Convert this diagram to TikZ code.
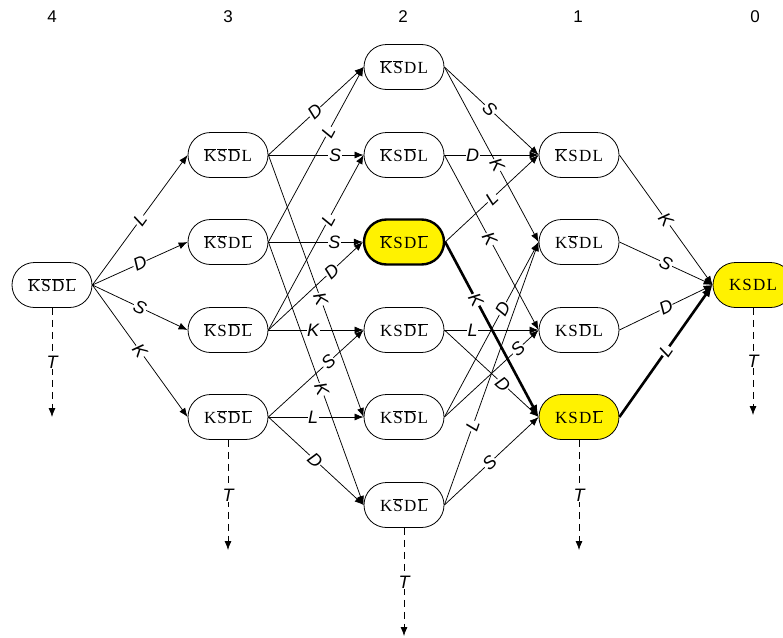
\documentclass[tikz,border=0pt]{standalone}
\usepackage{fontspec}
\setmainfont{Liberation Serif}
\setsansfont{Liberation Sans}
\usetikzlibrary{arrows.meta,shapes.misc}
\newcommand\nb[1]{$\overline{\mbox{#1}}$}
\newcommand\kk{\kern1.2pt}
\begin{document}
\begin{tikzpicture}[x=1pt,y=-1pt,
  state/.style={rounded rectangle, draw, line width=0.8pt, minimum width=80pt, minimum height=45pt, inner sep=0pt, fill=white, font=\fontsize{17}{20}\selectfont},
  hl/.style={fill=yellow},
  hlb/.style={fill=yellow, line width=2.4pt},
  edge/.style={line width=0.75pt, -{Latex[length=9pt,width=7pt]}},
  boldedge/.style={line width=2.6pt, -{Latex[length=12pt,width=9pt]}},
  lab/.style={fill=white, inner sep=0.6pt, sloped, font=\sffamily\itshape\fontsize{18}{18}\selectfont},
  tlab/.style={fill=white, inner sep=0.6pt, font=\sffamily\itshape\fontsize{18}{18}\selectfont},
  tarrow/.style={line width=0.75pt, dash pattern=on 7pt off 5pt, -{Latex[length=9pt,width=7pt]}},
  hdr/.style={font=\sffamily\fontsize{17}{17}\selectfont}]
\useasboundingbox (0,0) rectangle (783,637);
\clip (0,0) rectangle (783,637);
% headers
\node[hdr] (h4) at (52,17) {4};
\node[hdr] (h3) at (228,17) {3};
\node[hdr] (h2) at (403,17) {2};
\node[hdr] (h1) at (578,17) {1};
\node[hdr] (h0) at (755,17) {0};
% nodes
\node[state] (c4) at (52,285) {\nb{K}\kk\nb{S}\kk\nb{D}\kk\nb{L}};
\node[state] (c3a) at (228,155) {\nb{K}\kk\nb{S}\kk\nb{D}\kk L};
\node[state] (c3b) at (228,242) {\nb{K}\kk\nb{S}\kk D\kk\nb{L}};
\node[state] (c3c) at (228,330) {\nb{K}\kk S\kk\nb{D}\kk\nb{L}};
\node[state] (c3d) at (228,417) {K\kk\nb{S}\kk\nb{D}\kk\nb{L}};
\node[state] (c2a) at (404,67) {\nb{K}\kk\nb{S}\kk D\kk L};
\node[state] (c2b) at (404,155) {\nb{K}\kk S\kk\nb{D}\kk L};
\node[state,hlb] (c2c) at (404,242) {\nb{K}\kk S\kk D\kk\nb{L}};
\node[state] (c2d) at (404,330) {K\kk S\kk\nb{D}\kk\nb{L}};
\node[state] (c2e) at (404,417) {K\kk\nb{S}\kk\nb{D}\kk L};
\node[state] (c2f) at (404,505) {K\kk\nb{S}\kk D\kk\nb{L}};
\node[state] (c1a) at (579,155) {\nb{K}\kk S\kk D\kk L};
\node[state] (c1b) at (579,242) {K\kk\nb{S}\kk D\kk L};
\node[state] (c1c) at (579,330) {K\kk S\kk\nb{D}\kk L};
\node[state,hl] (c1d) at (579,417) {K\kk S\kk D\kk\nb{L}};
\node[state,hl] (c0) at (753,285) {K\kk S\kk D\kk L};
% col 4 -> col 3
\draw[edge] (c4.east) -- node[lab,pos=.5]{L} (c3a.west);
\draw[edge] (c4.east) -- node[lab,pos=.5]{D} (c3b.west);
\draw[edge] (c4.east) -- node[lab,pos=.5]{S} (c3c.west);
\draw[edge] (c4.east) -- node[lab,pos=.5]{K} (c3d.west);
% col 3 -> col 2
\draw[edge] (c3a.east) -- node[lab,pos=.49]{D} (c2a.west);
\draw[edge] (c3a.east) -- node[lab,pos=.7]{S} (c2b.west);
\draw[edge] (c3a.east) -- node[lab,pos=.55]{K} (c2e.west);
\draw[edge] (c3b.east) -- node[lab,pos=.63]{L} (c2a.west);
\draw[edge] (c3b.east) -- node[lab,pos=.7]{S} (c2c.west);
\draw[edge] (c3b.east) -- node[lab,pos=.56]{K} (c2f.west);
\draw[edge] (c3c.east) -- node[lab,pos=.63]{L} (c2b.west);
\draw[edge] (c3c.east) -- node[lab,pos=.67]{D} (c2c.west);
\draw[edge] (c3c.east) -- node[lab,pos=.47]{K} (c2d.west);
\draw[edge] (c3d.east) -- node[lab,pos=.63]{S} (c2d.west);
\draw[edge] (c3d.east) -- node[lab,pos=.47]{L} (c2e.west);
\draw[edge] (c3d.east) -- node[lab,pos=.49]{D} (c2f.west);
% col 2 -> col 1
\draw[edge] (c2a.east) -- node[lab,pos=.48]{S} (c1a.west);
\draw[edge] (c2a.east) -- node[lab,pos=.56]{K} (c1b.west);
\draw[edge] (c2b.east) -- node[lab,pos=.3]{D} (c1a.west);
\draw[edge] (c2b.east) -- node[lab,pos=.48]{K} (c1c.west);
\draw[edge] (c2c.east) -- node[lab,pos=.5]{L} (c1a.west);
\draw[edge] (c2d.east) -- node[lab,pos=.3]{L} (c1c.west);
\draw[edge] (c2d.east) -- node[lab,pos=.62]{D} (c1d.west);
\draw[edge] (c2e.east) -- node[lab,pos=.62]{D} (c1b.west);
\draw[edge] (c2e.east) -- node[lab,pos=.78]{S} (c1c.west);
\draw[edge] (c2f.east) -- node[lab,pos=.3]{L} (c1b.west);
\draw[edge] (c2f.east) -- node[lab,pos=.48]{S} (c1d.west);
\draw[boldedge] (c2c.east) -- node[lab,pos=.33]{K} (c1d.west);
% col 1 -> col 0
\draw[edge] (c1a.east) -- node[lab,pos=.5]{K} (c0.west);
\draw[edge] (c1b.east) -- node[lab,pos=.5]{S} (c0.west);
\draw[edge] (c1c.east) -- node[lab,pos=.5]{D} (c0.west);
\draw[boldedge] (c1d.east) -- node[lab,pos=.5]{L} (c0.west);
% T arrows
\coordinate (t4) at (52,417);
\coordinate (t3) at (228,550);
\coordinate (t2) at (404,636);
\coordinate (t1) at (579,550);
\coordinate (t0) at (753,415);
\draw[tarrow] (c4.south) -- node[tlab]{T} (t4);
\draw[tarrow] (c3d.south) -- node[tlab]{T} (t3);
\draw[tarrow] (c2f.south) -- node[tlab]{T} (t2);
\draw[tarrow] (c1d.south) -- node[tlab]{T} (t1);
\draw[tarrow] (c0.south) -- node[tlab]{T} (t0);
\end{tikzpicture}
\end{document}
